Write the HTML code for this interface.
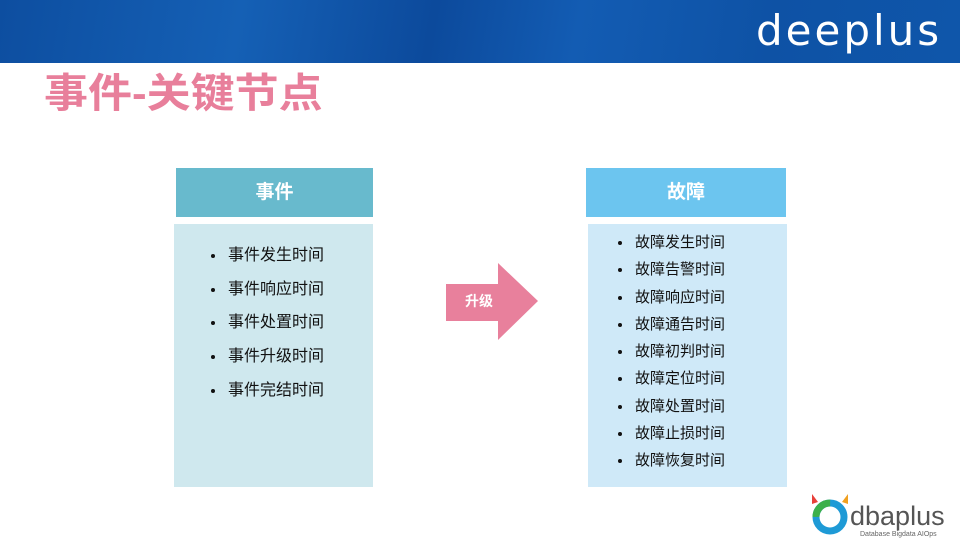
<!DOCTYPE html>
<html><head><meta charset="utf-8"><style>
body{margin:0;width:960px;height:540px;position:relative;overflow:hidden;background:#fff;font-family:"Liberation Sans","Noto Sans CJK SC",sans-serif}
.a{position:absolute}
.hdr{color:#fff;font-weight:bold;font-size:19px;text-align:center;line-height:49px}
ul{margin:0;padding:0;list-style:none}
li{position:relative;color:#111;font-size:16px;line-height:20px}
li:before{content:"";position:absolute;left:-17px;top:8px;width:4px;height:4px;border-radius:2px;background:#111}
</style></head><body>
<div class="a" style="left:0;top:0;width:960px;height:63px;background:linear-gradient(100deg,#0d4ea0 0%,#1560b5 25%,#0c4a9c 45%,#135cb3 60%,#0e52a5 80%,#0f56aa 100%)"></div>
<div class="a" style="left:756px;top:6px;color:#fff;font-size:42px;letter-spacing:3px;font-family:'DejaVu Sans',sans-serif">deeplus</div>
<div class="a" style="left:44px;top:70px;color:#e87f9b;font-size:44px;font-weight:bold;line-height:52px;transform:scaleY(0.92);transform-origin:top left">事件-关键节点</div>
<div class="a hdr" style="left:176px;top:168px;width:197px;height:49px;background:#68bacd">事件</div>
<div class="a" style="left:174px;top:224px;width:199px;height:263px;background:#cfe8ee"></div>
<ul class="a" style="left:228px;top:246px">
<li style="height:33.7px">事件发生时间</li><li style="height:33.7px">事件响应时间</li><li style="height:33.7px">事件处置时间</li><li style="height:33.7px">事件升级时间</li><li>事件完结时间</li></ul>
<div class="a hdr" style="left:586px;top:168px;width:200px;height:49px;background:#6cc5ef">故障</div>
<div class="a" style="left:588px;top:224px;width:199px;height:263px;background:#cfe9f8"></div>
<ul class="a" style="left:635px;top:233px">
<li style="height:27.3px;font-size:15px">故障发生时间</li><li style="height:27.3px;font-size:15px">故障告警时间</li><li style="height:27.3px;font-size:15px">故障响应时间</li><li style="height:27.3px;font-size:15px">故障通告时间</li><li style="height:27.3px;font-size:15px">故障初判时间</li><li style="height:27.3px;font-size:15px">故障定位时间</li><li style="height:27.3px;font-size:15px">故障处置时间</li><li style="height:27.3px;font-size:15px">故障止损时间</li><li style="font-size:15px">故障恢复时间</li></ul>
<svg class="a" style="left:0;top:0" width="960" height="540"><polygon points="446,284 498,284 498,263 538,301 498,340 498,321 446,321" fill="#e8809c"/></svg>
<div class="a" style="left:446px;top:291px;width:66px;text-align:center;color:#fff;font-weight:bold;font-size:14px">升级</div>
<svg class="a" style="left:808px;top:490px" width="152" height="50">
<polygon points="4,4 10,12 4,14" fill="#e8403a"/><polygon points="40,4 34,12 40,14" fill="#f0a020"/>
<circle cx="22" cy="27" r="14" fill="none" stroke="#1e9ad6" stroke-width="7"/>
<circle cx="22" cy="27" r="14" fill="none" stroke="#3cb04a" stroke-width="7" stroke-dasharray="22 66" stroke-dashoffset="-44"/>
<text x="42" y="35" font-size="27" fill="#555" font-family="Liberation Sans">dbaplus</text>
<text x="52" y="46" font-size="7" fill="#666" font-family="Liberation Sans">Database  Bigdata  AIOps</text>
</svg>
</body></html>
